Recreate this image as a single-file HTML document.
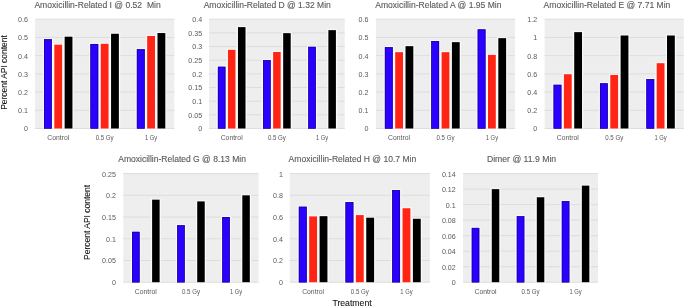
<!DOCTYPE html>
<html><head><meta charset="utf-8"><style>
html,body{margin:0;padding:0;background:#fff;width:685px;height:307px;overflow:hidden}
svg{display:block;filter:blur(0.3px)}
text{font-family:"Liberation Sans",sans-serif;white-space:pre}
.yl{font-size:7.1px;fill:#595959;text-anchor:end}
.xl{font-size:7.3px;fill:#595959;text-anchor:middle}
.tt{font-size:8.6px;fill:#595959;stroke:#595959;stroke-width:0.12px}
.at{font-size:8.8px;fill:#111;stroke:#111;stroke-width:0.08px}
.tr{font-size:8.8px;fill:#111;stroke:#111;stroke-width:0.08px}
</style></head><body>
<svg width="685" height="307" viewBox="0 0 685 307" xml:space="preserve">
<rect x="35.00" y="19.20" width="139.30" height="109.30" fill="#edeeed"/>
<rect x="35.00" y="128.00" width="139.30" height="1" fill="#dcdddc"/>
<text x="27.90" y="131.40" class="yl">0</text>
<rect x="35.00" y="109.78" width="139.30" height="1" fill="#dcdddc"/>
<text x="27.90" y="113.18" class="yl">0.1</text>
<rect x="35.00" y="91.57" width="139.30" height="1" fill="#dcdddc"/>
<text x="27.90" y="94.97" class="yl">0.2</text>
<rect x="35.00" y="73.35" width="139.30" height="1" fill="#dcdddc"/>
<text x="27.90" y="76.75" class="yl">0.3</text>
<rect x="35.00" y="55.13" width="139.30" height="1" fill="#dcdddc"/>
<text x="27.90" y="58.53" class="yl">0.4</text>
<rect x="35.00" y="36.92" width="139.30" height="1" fill="#dcdddc"/>
<text x="27.90" y="40.32" class="yl">0.5</text>
<rect x="35.00" y="18.70" width="139.30" height="1" fill="#dcdddc"/>
<text x="27.90" y="22.10" class="yl">0.6</text>
<rect x="42.74" y="38.34" width="10.32" height="90.16" fill="#fafcfb"/>
<rect x="43.99" y="39.24" width="7.82" height="89.26" fill="#2a00ff"/>
<rect x="44.34" y="39.59" width="7.12" height="88.91" fill="none" stroke="#1c0090" stroke-width="0.7"/>
<rect x="53.06" y="43.80" width="10.32" height="84.70" fill="#fafcfb"/>
<rect x="54.31" y="44.70" width="7.82" height="83.80" fill="#ff2414"/>
<rect x="63.38" y="35.79" width="10.32" height="92.71" fill="#fafcfb"/>
<rect x="64.63" y="36.69" width="7.82" height="91.81" fill="#000000"/>
<rect x="89.17" y="43.07" width="10.32" height="85.43" fill="#fafcfb"/>
<rect x="90.42" y="43.97" width="7.82" height="84.53" fill="#2a00ff"/>
<rect x="90.77" y="44.32" width="7.12" height="84.18" fill="none" stroke="#1c0090" stroke-width="0.7"/>
<rect x="99.49" y="42.89" width="10.32" height="85.61" fill="#fafcfb"/>
<rect x="100.74" y="43.79" width="7.82" height="84.71" fill="#ff2414"/>
<rect x="109.81" y="32.87" width="10.32" height="95.63" fill="#fafcfb"/>
<rect x="111.06" y="33.77" width="7.82" height="94.73" fill="#000000"/>
<rect x="135.61" y="48.36" width="10.32" height="80.14" fill="#fafcfb"/>
<rect x="136.86" y="49.26" width="7.82" height="79.24" fill="#2a00ff"/>
<rect x="137.21" y="49.61" width="7.12" height="78.89" fill="none" stroke="#1c0090" stroke-width="0.7"/>
<rect x="145.92" y="35.06" width="10.32" height="93.44" fill="#fafcfb"/>
<rect x="147.17" y="35.96" width="7.82" height="92.54" fill="#ff2414"/>
<rect x="156.24" y="32.14" width="10.32" height="96.36" fill="#fafcfb"/>
<rect x="157.49" y="33.04" width="7.82" height="95.46" fill="#000000"/>
<text x="58.22" y="140.00" class="xl" textLength="22.0" lengthAdjust="spacingAndGlyphs">Control</text>
<text x="104.65" y="140.00" class="xl" textLength="18.0" lengthAdjust="spacingAndGlyphs">0.5 Gy</text>
<text x="151.08" y="140.00" class="xl" textLength="12.3" lengthAdjust="spacingAndGlyphs">1 Gy</text>
<text x="34.40" y="7.65" class="tt" textLength="126.30" lengthAdjust="spacingAndGlyphs">Amoxicillin-Related I @ 0.52  Min</text>
<rect x="209.10" y="19.20" width="135.60" height="109.30" fill="#edeeed"/>
<rect x="209.10" y="128.00" width="135.60" height="1" fill="#dcdddc"/>
<text x="202.10" y="131.40" class="yl">0</text>
<rect x="209.10" y="114.34" width="135.60" height="1" fill="#dcdddc"/>
<text x="202.10" y="117.74" class="yl">0.05</text>
<rect x="209.10" y="100.67" width="135.60" height="1" fill="#dcdddc"/>
<text x="202.10" y="104.08" class="yl">0.1</text>
<rect x="209.10" y="87.01" width="135.60" height="1" fill="#dcdddc"/>
<text x="202.10" y="90.41" class="yl">0.15</text>
<rect x="209.10" y="73.35" width="135.60" height="1" fill="#dcdddc"/>
<text x="202.10" y="76.75" class="yl">0.2</text>
<rect x="209.10" y="59.69" width="135.60" height="1" fill="#dcdddc"/>
<text x="202.10" y="63.09" class="yl">0.25</text>
<rect x="209.10" y="46.03" width="135.60" height="1" fill="#dcdddc"/>
<text x="202.10" y="49.43" class="yl">0.3</text>
<rect x="209.10" y="32.36" width="135.60" height="1" fill="#dcdddc"/>
<text x="202.10" y="35.76" class="yl">0.35</text>
<rect x="209.10" y="18.70" width="135.60" height="1" fill="#dcdddc"/>
<text x="202.10" y="22.10" class="yl">0.4</text>
<rect x="216.63" y="65.85" width="10.04" height="62.65" fill="#fafcfb"/>
<rect x="217.88" y="66.75" width="7.54" height="61.75" fill="#2a00ff"/>
<rect x="218.23" y="67.10" width="6.84" height="61.40" fill="none" stroke="#1c0090" stroke-width="0.7"/>
<rect x="226.68" y="48.90" width="10.04" height="79.60" fill="#fafcfb"/>
<rect x="227.93" y="49.80" width="7.54" height="78.70" fill="#ff2414"/>
<rect x="236.72" y="26.22" width="10.04" height="102.28" fill="#fafcfb"/>
<rect x="237.97" y="27.12" width="7.54" height="101.38" fill="#000000"/>
<rect x="261.83" y="59.29" width="10.04" height="69.21" fill="#fafcfb"/>
<rect x="263.08" y="60.19" width="7.54" height="68.31" fill="#2a00ff"/>
<rect x="263.43" y="60.54" width="6.84" height="67.96" fill="none" stroke="#1c0090" stroke-width="0.7"/>
<rect x="271.88" y="51.09" width="10.04" height="77.41" fill="#fafcfb"/>
<rect x="273.13" y="51.99" width="7.54" height="76.51" fill="#ff2414"/>
<rect x="281.92" y="32.24" width="10.04" height="96.26" fill="#fafcfb"/>
<rect x="283.17" y="33.14" width="7.54" height="95.36" fill="#000000"/>
<rect x="307.03" y="45.90" width="10.04" height="82.60" fill="#fafcfb"/>
<rect x="308.28" y="46.80" width="7.54" height="81.70" fill="#2a00ff"/>
<rect x="308.63" y="47.15" width="6.84" height="81.35" fill="none" stroke="#1c0090" stroke-width="0.7"/>
<rect x="327.12" y="29.23" width="10.04" height="99.27" fill="#fafcfb"/>
<rect x="328.37" y="30.13" width="7.54" height="98.37" fill="#000000"/>
<text x="231.70" y="140.00" class="xl" textLength="22.0" lengthAdjust="spacingAndGlyphs">Control</text>
<text x="276.90" y="140.00" class="xl" textLength="18.0" lengthAdjust="spacingAndGlyphs">0.5 Gy</text>
<text x="322.10" y="140.00" class="xl" textLength="12.3" lengthAdjust="spacingAndGlyphs">1 Gy</text>
<text x="203.70" y="7.65" class="tt" textLength="127.10" lengthAdjust="spacingAndGlyphs">Amoxicillin-Related D @ 1.32 Min</text>
<rect x="375.90" y="19.20" width="139.20" height="109.30" fill="#edeeed"/>
<rect x="375.90" y="128.00" width="139.20" height="1" fill="#dcdddc"/>
<text x="368.40" y="131.40" class="yl">0</text>
<rect x="375.90" y="109.78" width="139.20" height="1" fill="#dcdddc"/>
<text x="368.40" y="113.18" class="yl">0.1</text>
<rect x="375.90" y="91.57" width="139.20" height="1" fill="#dcdddc"/>
<text x="368.40" y="94.97" class="yl">0.2</text>
<rect x="375.90" y="73.35" width="139.20" height="1" fill="#dcdddc"/>
<text x="368.40" y="76.75" class="yl">0.3</text>
<rect x="375.90" y="55.13" width="139.20" height="1" fill="#dcdddc"/>
<text x="368.40" y="58.53" class="yl">0.4</text>
<rect x="375.90" y="36.92" width="139.20" height="1" fill="#dcdddc"/>
<text x="368.40" y="40.32" class="yl">0.5</text>
<rect x="375.90" y="18.70" width="139.20" height="1" fill="#dcdddc"/>
<text x="368.40" y="22.10" class="yl">0.6</text>
<rect x="383.63" y="46.35" width="10.31" height="82.15" fill="#fafcfb"/>
<rect x="384.88" y="47.25" width="7.81" height="81.25" fill="#2a00ff"/>
<rect x="385.23" y="47.60" width="7.11" height="80.90" fill="none" stroke="#1c0090" stroke-width="0.7"/>
<rect x="393.94" y="51.27" width="10.31" height="77.23" fill="#fafcfb"/>
<rect x="395.19" y="52.17" width="7.81" height="76.33" fill="#ff2414"/>
<rect x="404.26" y="45.26" width="10.31" height="83.24" fill="#fafcfb"/>
<rect x="405.51" y="46.16" width="7.81" height="82.34" fill="#000000"/>
<rect x="430.03" y="40.16" width="10.31" height="88.34" fill="#fafcfb"/>
<rect x="431.28" y="41.06" width="7.81" height="87.44" fill="#2a00ff"/>
<rect x="431.63" y="41.41" width="7.11" height="87.09" fill="none" stroke="#1c0090" stroke-width="0.7"/>
<rect x="440.34" y="51.27" width="10.31" height="77.23" fill="#fafcfb"/>
<rect x="441.59" y="52.17" width="7.81" height="76.33" fill="#ff2414"/>
<rect x="450.66" y="41.25" width="10.31" height="87.25" fill="#fafcfb"/>
<rect x="451.91" y="42.15" width="7.81" height="86.35" fill="#000000"/>
<rect x="476.43" y="28.50" width="10.31" height="100.00" fill="#fafcfb"/>
<rect x="477.68" y="29.40" width="7.81" height="99.10" fill="#2a00ff"/>
<rect x="478.03" y="29.75" width="7.11" height="98.75" fill="none" stroke="#1c0090" stroke-width="0.7"/>
<rect x="486.74" y="54.00" width="10.31" height="74.50" fill="#fafcfb"/>
<rect x="487.99" y="54.90" width="7.81" height="73.60" fill="#ff2414"/>
<rect x="497.06" y="37.25" width="10.31" height="91.25" fill="#fafcfb"/>
<rect x="498.31" y="38.15" width="7.81" height="90.35" fill="#000000"/>
<text x="399.10" y="140.00" class="xl" textLength="22.0" lengthAdjust="spacingAndGlyphs">Control</text>
<text x="445.50" y="140.00" class="xl" textLength="18.0" lengthAdjust="spacingAndGlyphs">0.5 Gy</text>
<text x="491.90" y="140.00" class="xl" textLength="12.3" lengthAdjust="spacingAndGlyphs">1 Gy</text>
<text x="375.20" y="7.65" class="tt" textLength="126.30" lengthAdjust="spacingAndGlyphs">Amoxicillin-Related A @ 1.95 Min</text>
<rect x="544.60" y="19.20" width="139.20" height="109.30" fill="#edeeed"/>
<rect x="544.60" y="128.00" width="139.20" height="1" fill="#dcdddc"/>
<text x="537.10" y="131.40" class="yl">0</text>
<rect x="544.60" y="109.78" width="139.20" height="1" fill="#dcdddc"/>
<text x="537.10" y="113.18" class="yl">0.2</text>
<rect x="544.60" y="91.57" width="139.20" height="1" fill="#dcdddc"/>
<text x="537.10" y="94.97" class="yl">0.4</text>
<rect x="544.60" y="73.35" width="139.20" height="1" fill="#dcdddc"/>
<text x="537.10" y="76.75" class="yl">0.6</text>
<rect x="544.60" y="55.13" width="139.20" height="1" fill="#dcdddc"/>
<text x="537.10" y="58.53" class="yl">0.8</text>
<rect x="544.60" y="36.92" width="139.20" height="1" fill="#dcdddc"/>
<text x="537.10" y="40.32" class="yl">1</text>
<rect x="544.60" y="18.70" width="139.20" height="1" fill="#dcdddc"/>
<text x="537.10" y="22.10" class="yl">1.2</text>
<rect x="552.33" y="83.88" width="10.31" height="44.62" fill="#fafcfb"/>
<rect x="553.58" y="84.78" width="7.81" height="43.72" fill="#2a00ff"/>
<rect x="553.93" y="85.13" width="7.11" height="43.37" fill="none" stroke="#1c0090" stroke-width="0.7"/>
<rect x="562.64" y="73.31" width="10.31" height="55.19" fill="#fafcfb"/>
<rect x="563.89" y="74.21" width="7.81" height="54.29" fill="#ff2414"/>
<rect x="572.96" y="31.23" width="10.31" height="97.27" fill="#fafcfb"/>
<rect x="574.21" y="32.13" width="7.81" height="96.37" fill="#000000"/>
<rect x="598.73" y="82.42" width="10.31" height="46.08" fill="#fafcfb"/>
<rect x="599.98" y="83.32" width="7.81" height="45.18" fill="#2a00ff"/>
<rect x="600.33" y="83.67" width="7.11" height="44.83" fill="none" stroke="#1c0090" stroke-width="0.7"/>
<rect x="609.04" y="74.04" width="10.31" height="54.46" fill="#fafcfb"/>
<rect x="610.29" y="74.94" width="7.81" height="53.56" fill="#ff2414"/>
<rect x="619.36" y="34.60" width="10.31" height="93.90" fill="#fafcfb"/>
<rect x="620.61" y="35.50" width="7.81" height="93.00" fill="#000000"/>
<rect x="645.13" y="78.23" width="10.31" height="50.27" fill="#fafcfb"/>
<rect x="646.38" y="79.13" width="7.81" height="49.37" fill="#2a00ff"/>
<rect x="646.73" y="79.48" width="7.11" height="49.02" fill="none" stroke="#1c0090" stroke-width="0.7"/>
<rect x="655.44" y="62.29" width="10.31" height="66.21" fill="#fafcfb"/>
<rect x="656.69" y="63.19" width="7.81" height="65.31" fill="#ff2414"/>
<rect x="665.76" y="34.60" width="10.31" height="93.90" fill="#fafcfb"/>
<rect x="667.01" y="35.50" width="7.81" height="93.00" fill="#000000"/>
<text x="567.80" y="140.00" class="xl" textLength="22.0" lengthAdjust="spacingAndGlyphs">Control</text>
<text x="614.20" y="140.00" class="xl" textLength="18.0" lengthAdjust="spacingAndGlyphs">0.5 Gy</text>
<text x="660.60" y="140.00" class="xl" textLength="12.3" lengthAdjust="spacingAndGlyphs">1 Gy</text>
<text x="543.60" y="7.65" class="tt" textLength="126.70" lengthAdjust="spacingAndGlyphs">Amoxicillin-Related E @ 7.71 Min</text>
<rect x="123.30" y="173.60" width="135.30" height="108.60" fill="#edeeed"/>
<rect x="123.30" y="281.70" width="135.30" height="1" fill="#dcdddc"/>
<text x="115.90" y="285.10" class="yl">0</text>
<rect x="123.30" y="259.98" width="135.30" height="1" fill="#dcdddc"/>
<text x="115.90" y="263.38" class="yl">0.05</text>
<rect x="123.30" y="238.26" width="135.30" height="1" fill="#dcdddc"/>
<text x="115.90" y="241.66" class="yl">0.1</text>
<rect x="123.30" y="216.54" width="135.30" height="1" fill="#dcdddc"/>
<text x="115.90" y="219.94" class="yl">0.15</text>
<rect x="123.30" y="194.82" width="135.30" height="1" fill="#dcdddc"/>
<text x="115.90" y="198.22" class="yl">0.2</text>
<rect x="123.30" y="173.10" width="135.30" height="1" fill="#dcdddc"/>
<text x="115.90" y="176.50" class="yl">0.25</text>
<rect x="130.82" y="230.91" width="10.02" height="51.29" fill="#fafcfb"/>
<rect x="132.07" y="231.81" width="7.52" height="50.39" fill="#2a00ff"/>
<rect x="132.42" y="232.16" width="6.82" height="50.04" fill="none" stroke="#1c0090" stroke-width="0.7"/>
<rect x="150.86" y="198.76" width="10.02" height="83.44" fill="#fafcfb"/>
<rect x="152.11" y="199.66" width="7.52" height="82.54" fill="#000000"/>
<rect x="175.92" y="224.39" width="10.02" height="57.81" fill="#fafcfb"/>
<rect x="177.17" y="225.29" width="7.52" height="56.91" fill="#2a00ff"/>
<rect x="177.52" y="225.64" width="6.82" height="56.56" fill="none" stroke="#1c0090" stroke-width="0.7"/>
<rect x="195.96" y="200.50" width="10.02" height="81.70" fill="#fafcfb"/>
<rect x="197.21" y="201.40" width="7.52" height="80.80" fill="#000000"/>
<rect x="221.02" y="216.14" width="10.02" height="66.06" fill="#fafcfb"/>
<rect x="222.27" y="217.04" width="7.52" height="65.16" fill="#2a00ff"/>
<rect x="222.62" y="217.39" width="6.82" height="64.81" fill="none" stroke="#1c0090" stroke-width="0.7"/>
<rect x="241.06" y="194.42" width="10.02" height="87.78" fill="#fafcfb"/>
<rect x="242.31" y="195.32" width="7.52" height="86.88" fill="#000000"/>
<text x="145.85" y="293.70" class="xl" textLength="22.0" lengthAdjust="spacingAndGlyphs">Control</text>
<text x="190.95" y="293.70" class="xl" textLength="18.0" lengthAdjust="spacingAndGlyphs">0.5 Gy</text>
<text x="236.05" y="293.70" class="xl" textLength="12.3" lengthAdjust="spacingAndGlyphs">1 Gy</text>
<text x="118.20" y="162.20" class="tt" textLength="127.70" lengthAdjust="spacingAndGlyphs">Amoxicillin-Related G @ 8.13 Min</text>
<rect x="289.80" y="173.60" width="140.00" height="108.60" fill="#edeeed"/>
<rect x="289.80" y="281.70" width="140.00" height="1" fill="#dcdddc"/>
<text x="282.90" y="285.10" class="yl">0</text>
<rect x="289.80" y="259.98" width="140.00" height="1" fill="#dcdddc"/>
<text x="282.90" y="263.38" class="yl">0.2</text>
<rect x="289.80" y="238.26" width="140.00" height="1" fill="#dcdddc"/>
<text x="282.90" y="241.66" class="yl">0.4</text>
<rect x="289.80" y="216.54" width="140.00" height="1" fill="#dcdddc"/>
<text x="282.90" y="219.94" class="yl">0.6</text>
<rect x="289.80" y="194.82" width="140.00" height="1" fill="#dcdddc"/>
<text x="282.90" y="198.22" class="yl">0.8</text>
<rect x="289.80" y="173.10" width="140.00" height="1" fill="#dcdddc"/>
<text x="282.90" y="176.50" class="yl">1</text>
<rect x="297.58" y="205.82" width="10.37" height="76.38" fill="#fafcfb"/>
<rect x="298.83" y="206.72" width="7.87" height="75.48" fill="#2a00ff"/>
<rect x="299.18" y="207.07" width="7.17" height="75.13" fill="none" stroke="#1c0090" stroke-width="0.7"/>
<rect x="307.95" y="215.49" width="10.37" height="66.71" fill="#fafcfb"/>
<rect x="309.20" y="216.39" width="7.87" height="65.81" fill="#ff2414"/>
<rect x="318.32" y="215.27" width="10.37" height="66.93" fill="#fafcfb"/>
<rect x="319.57" y="216.17" width="7.87" height="66.03" fill="#000000"/>
<rect x="344.24" y="201.26" width="10.37" height="80.94" fill="#fafcfb"/>
<rect x="345.49" y="202.16" width="7.87" height="80.04" fill="#2a00ff"/>
<rect x="345.84" y="202.51" width="7.17" height="79.69" fill="none" stroke="#1c0090" stroke-width="0.7"/>
<rect x="354.61" y="214.19" width="10.37" height="68.01" fill="#fafcfb"/>
<rect x="355.86" y="215.09" width="7.87" height="67.11" fill="#ff2414"/>
<rect x="364.99" y="216.79" width="10.37" height="65.41" fill="#fafcfb"/>
<rect x="366.24" y="217.69" width="7.87" height="64.51" fill="#000000"/>
<rect x="390.91" y="189.21" width="10.37" height="92.99" fill="#fafcfb"/>
<rect x="392.16" y="190.11" width="7.87" height="92.09" fill="#2a00ff"/>
<rect x="392.51" y="190.46" width="7.17" height="91.74" fill="none" stroke="#1c0090" stroke-width="0.7"/>
<rect x="401.28" y="207.34" width="10.37" height="74.86" fill="#fafcfb"/>
<rect x="402.53" y="208.24" width="7.87" height="73.96" fill="#ff2414"/>
<rect x="411.65" y="217.88" width="10.37" height="64.32" fill="#fafcfb"/>
<rect x="412.90" y="218.78" width="7.87" height="63.42" fill="#000000"/>
<text x="313.13" y="293.70" class="xl" textLength="22.0" lengthAdjust="spacingAndGlyphs">Control</text>
<text x="359.80" y="293.70" class="xl" textLength="18.0" lengthAdjust="spacingAndGlyphs">0.5 Gy</text>
<text x="406.47" y="293.70" class="xl" textLength="12.3" lengthAdjust="spacingAndGlyphs">1 Gy</text>
<text x="288.60" y="162.20" class="tt" textLength="127.70" lengthAdjust="spacingAndGlyphs">Amoxicillin-Related H @ 10.7 Min</text>
<rect x="463.00" y="173.60" width="135.10" height="108.60" fill="#edeeed"/>
<rect x="463.00" y="281.70" width="135.10" height="1" fill="#dcdddc"/>
<text x="455.70" y="285.10" class="yl">0</text>
<rect x="463.00" y="266.19" width="135.10" height="1" fill="#dcdddc"/>
<text x="455.70" y="269.59" class="yl">0.02</text>
<rect x="463.00" y="250.67" width="135.10" height="1" fill="#dcdddc"/>
<text x="455.70" y="254.07" class="yl">0.04</text>
<rect x="463.00" y="235.16" width="135.10" height="1" fill="#dcdddc"/>
<text x="455.70" y="238.56" class="yl">0.06</text>
<rect x="463.00" y="219.64" width="135.10" height="1" fill="#dcdddc"/>
<text x="455.70" y="223.04" class="yl">0.08</text>
<rect x="463.00" y="204.13" width="135.10" height="1" fill="#dcdddc"/>
<text x="455.70" y="207.53" class="yl">0.1</text>
<rect x="463.00" y="188.61" width="135.10" height="1" fill="#dcdddc"/>
<text x="455.70" y="192.01" class="yl">0.12</text>
<rect x="463.00" y="173.10" width="135.10" height="1" fill="#dcdddc"/>
<text x="455.70" y="176.50" class="yl">0.14</text>
<rect x="470.51" y="227.00" width="10.01" height="55.20" fill="#fafcfb"/>
<rect x="471.76" y="227.90" width="7.51" height="54.30" fill="#2a00ff"/>
<rect x="472.11" y="228.25" width="6.81" height="53.95" fill="none" stroke="#1c0090" stroke-width="0.7"/>
<rect x="490.52" y="188.21" width="10.01" height="93.99" fill="#fafcfb"/>
<rect x="491.77" y="189.11" width="7.51" height="93.09" fill="#000000"/>
<rect x="515.54" y="215.36" width="10.01" height="66.84" fill="#fafcfb"/>
<rect x="516.79" y="216.26" width="7.51" height="65.94" fill="#2a00ff"/>
<rect x="517.14" y="216.61" width="6.81" height="65.59" fill="none" stroke="#1c0090" stroke-width="0.7"/>
<rect x="535.55" y="196.36" width="10.01" height="85.84" fill="#fafcfb"/>
<rect x="536.80" y="197.26" width="7.51" height="84.94" fill="#000000"/>
<rect x="560.57" y="200.24" width="10.01" height="81.96" fill="#fafcfb"/>
<rect x="561.82" y="201.14" width="7.51" height="81.06" fill="#2a00ff"/>
<rect x="562.17" y="201.49" width="6.81" height="80.71" fill="none" stroke="#1c0090" stroke-width="0.7"/>
<rect x="580.59" y="184.72" width="10.01" height="97.48" fill="#fafcfb"/>
<rect x="581.84" y="185.62" width="7.51" height="96.58" fill="#000000"/>
<text x="485.52" y="293.70" class="xl" textLength="22.0" lengthAdjust="spacingAndGlyphs">Control</text>
<text x="530.55" y="293.70" class="xl" textLength="18.0" lengthAdjust="spacingAndGlyphs">0.5 Gy</text>
<text x="575.58" y="293.70" class="xl" textLength="12.3" lengthAdjust="spacingAndGlyphs">1 Gy</text>
<text x="486.90" y="162.30" class="tt" textLength="69.30" lengthAdjust="spacingAndGlyphs">Dimer @ 11.9 Min</text>
<text transform="translate(6.7,109.8) rotate(-90)" class="at" textLength="74.6" lengthAdjust="spacingAndGlyphs">Percent API content</text>
<text transform="translate(90.4,260.0) rotate(-90)" class="at" textLength="75.2" lengthAdjust="spacingAndGlyphs">Percent API content</text>
<text x="332.4" y="306.2" class="tr" textLength="39.3" lengthAdjust="spacingAndGlyphs">Treatment</text>
</svg>
</body></html>
